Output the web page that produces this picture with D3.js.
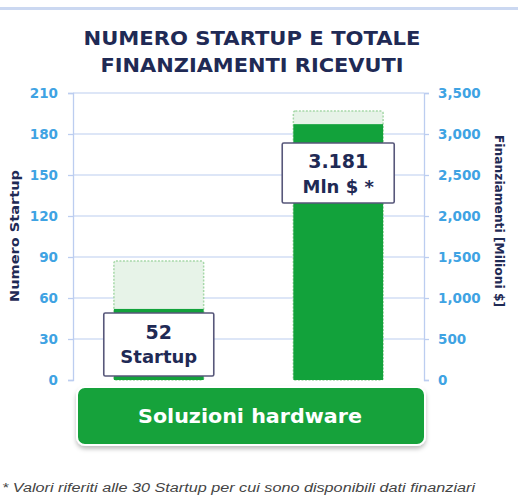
<!DOCTYPE html>
<html>
<head>
<meta charset="utf-8">
<script src="https://cdn.jsdelivr.net/npm/d3@7"></script>
<style>
  body { margin: 0; background: #fff; }
  svg { display: block; }
</style>
</head>
<body>
<script>
// small stand-in for d3-selection-multi's attrs()
d3.selection.prototype.attrs = function(map) {
    Object.keys(map).forEach(k => this.attr(k, map[k]));
    return this;
};

const wid = 518, hei = 498;

// data
const categories = ['startup', 'funding'];
const barValues = [52, 3120];          // dark green part (startup on left axis, $M on right axis)
const totalValues = [87, 3280];        // light green top
const labelTop = ['52', '3.181'];
const labelBottom = ['Startup', 'Mln $ *'];
const leftTicks = [0, 30, 60, 90, 120, 150, 180, 210];
const rightTicks = [0, 500, 1000, 1500, 2000, 2500, 3000, 3500];
const titleLines = ['NUMERO STARTUP E TOTALE', 'FINANZIAMENTI RICEVUTI'];
const groupName = 'Soluzioni hardware';
const footNote = '* Valori riferiti alle 30 Startup per cui sono disponibili dati finanziari';

const navy = '#1f2a55', tickBlue = '#3fa3e3', gridBlue = '#bccdf0';
const green = '#12a23b', lightGreen = '#e7f3e8';
const font = '"DejaVu Sans", Verdana, sans-serif';

const svg = d3.select('body').append('svg')
    .attr('width', wid)
    .attr('height', hei);

const defs = svg.append('defs');
const sh = defs.append('filter').attr('id', 'shadow')
    .attr('x', '-10%').attr('y', '-20%').attr('width', '120%').attr('height', '150%');
sh.append('feDropShadow').attrs({dx: 0, dy: 3, stdDeviation: 2, 'flood-color': '#000', 'flood-opacity': 0.25});

// top rule
svg.append('rect').attrs({x: 0, y: 7, width: wid, height: 3, fill: '#cbd8f1'});

// title
const titleLen = [337, 303];
svg.selectAll('text.title')
    .data(titleLines)
    .enter()
    .append('text')
    .attr('class', 'title')
    .attrs({
        x: 252,
        y: (d, i) => 45 + i * 27,
        'text-anchor': 'middle',
        'font-family': font,
        'font-weight': 700,
        'font-size': 19,
        fill: navy,
        textLength: (d, i) => titleLen[i],
        lengthAdjust: 'spacingAndGlyphs'
    })
    .text(d => d);

const x = d3.scaleBand().domain(categories).range([73, 424]).paddingInner(0.5).paddingOuter(0.228);
const yL = d3.scaleLinear().domain([0, 210]).range([380, 93]);
const yR = d3.scaleLinear().domain([0, 3500]).range([380, 93]);
const yFor = i => i === 0 ? yL : yR;

// gridlines
svg.append('g').selectAll('line')
    .data(leftTicks.slice(1))
    .enter()
    .append('line')
    .attrs({x1: 73, x2: 424, y1: d => yL(d), y2: d => yL(d), stroke: gridBlue, 'stroke-width': 1.2});

// axes
const axL = svg.append('g').attr('transform', 'translate(73,0)')
    .call(d3.axisLeft(yL).tickValues(leftTicks).tickSize(5).tickSizeOuter(5).tickPadding(10));
const axR = svg.append('g').attr('transform', 'translate(424,0)')
    .call(d3.axisRight(yR).tickValues(rightTicks).tickSize(5).tickSizeOuter(5).tickPadding(9)
        .tickFormat(d3.format(',')));
[axL, axR].forEach(a => {
    a.selectAll('path, line').attr('stroke', gridBlue).attr('stroke-width', 1.3);
    a.selectAll('text').attrs({fill: tickBlue, 'font-family': font, 'font-weight': 700, 'font-size': 13.5});
});

// axis titles
svg.append('text')
    .attrs({transform: 'translate(19,236) rotate(-90)', 'text-anchor': 'middle',
        'font-family': font, 'font-weight': 700, 'font-size': 13, fill: navy,
        textLength: 132, lengthAdjust: 'spacingAndGlyphs'})
    .text('Numero Startup');
svg.append('text')
    .attrs({transform: 'translate(495,221) rotate(90)', 'text-anchor': 'middle',
        'font-family': font, 'font-weight': 700, 'font-size': 12.5, fill: navy,
        textLength: 172, lengthAdjust: 'spacingAndGlyphs'})
    .text('Finanziamenti [Milioni $]');

// light green totals
svg.selectAll('rect.total')
    .data(categories)
    .enter()
    .append('rect')
    .attr('class', 'total')
    .attrs({
        x: d => x(d),
        y: (d, i) => yFor(i)(totalValues[i]),
        width: x.bandwidth(),
        height: (d, i) => 380 - yFor(i)(totalValues[i]),
        rx: 2,
        fill: lightGreen,
        stroke: '#a6d8a8',
        'stroke-width': 1.5,
        'stroke-dasharray': '2,1.5'
    });

// dark green bars
svg.selectAll('rect.bar')
    .data(categories)
    .enter()
    .append('rect')
    .attr('class', 'bar')
    .attrs({
        x: d => x(d),
        y: (d, i) => yFor(i)(barValues[i]),
        width: x.bandwidth(),
        height: (d, i) => 380 - yFor(i)(barValues[i]),
        fill: green
    });

// label boxes
const boxTop = [313, 143];
const lab = svg.selectAll('g.lab')
    .data(categories)
    .enter()
    .append('g')
    .attr('class', 'lab')
    .attr('transform', (d, i) => `translate(${x(d) + x.bandwidth() / 2},${boxTop[i]})`);
lab.append('rect')
    .attrs({x: (d, i) => i === 0 ? -55 : -56, y: 0, width: (d, i) => i === 0 ? 110 : 112, height: (d, i) => i === 0 ? 63 : 60,
        fill: '#fff', stroke: '#57577a', 'stroke-width': 1.6, rx: 1.5});
lab.append('text')
    .attrs({x: 0, y: (d, i) => i === 0 ? 26 : 25, 'text-anchor': 'middle', 'font-family': font,
        'font-weight': 700, 'font-size': 19, fill: navy})
    .text((d, i) => labelTop[i]);
lab.append('text')
    .attrs({x: 0, y: (d, i) => i === 0 ? 50 : 50, 'text-anchor': 'middle', 'font-family': font,
        'font-weight': 700, 'font-size': 18, fill: navy})
    .text((d, i) => labelBottom[i]);

// category button
svg.append('rect')
    .attrs({x: 77, y: 387, width: 348, height: 58, rx: 8, fill: green, stroke: '#fff', 'stroke-width': 2,
        filter: 'url(#shadow)'});
svg.append('text')
    .attrs({x: 250, y: 423, 'text-anchor': 'middle', 'font-family': font, 'font-weight': 700,
        'font-size': 20, fill: '#fff', textLength: 224, lengthAdjust: 'spacingAndGlyphs'})
    .text(groupName);

// footnote
svg.append('text')
    .attrs({x: 2, y: 492, 'font-family': '"Liberation Sans", Arial, sans-serif', 'font-style': 'italic',
        'font-size': 12.5, fill: '#444', textLength: 473, lengthAdjust: 'spacingAndGlyphs'})
    .text(footNote);
</script>
</body>
</html>
